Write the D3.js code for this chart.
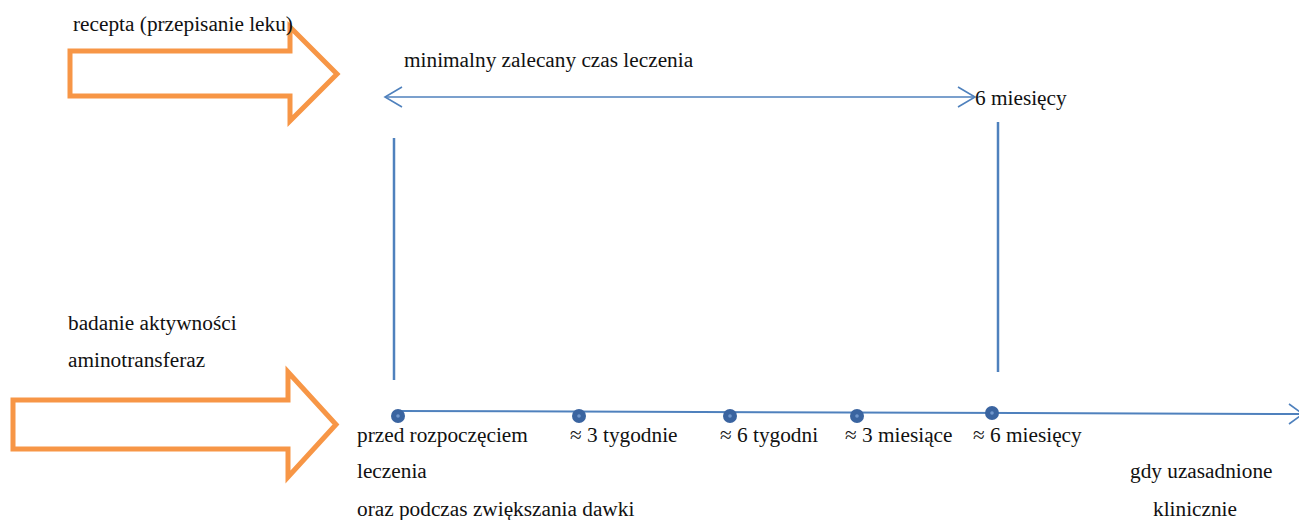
<!DOCTYPE html>
<html>
<head>
<meta charset="utf-8">
<script src="https://cdn.jsdelivr.net/npm/d3@7"></script>
<style>
  html, body { margin: 0; padding: 0; background: #fff; }
</style>
</head>
<body>
<div id="chart"></div>
<script>
// checkpoints on the timeline (weeks from start of treatment)
const checkWeeks = [0, 3, 6, 13, 26];
const checkLabels = ["przed rozpoczęciem", "≈ 3 tygodnie", "≈ 6 tygodni", "≈ 3 miesiące", "≈ 6 miesięcy"];
const firstExtraLines = ["leczenia", "oraz podczas zwiększania dawki"];
const clinicalLines = ["gdy uzasadnione", "klinicznie"];
const topLabel = "recepta (przepisanie leku)";
const bottomLabel = ["badanie aktywności", "aminotransferaz"];
const spanLabel = "minimalny zalecany czas leczenia";
const spanEndLabel = "6 miesięcy";
const minWeeks = 26;

const width = 1299, height = 520;
const orange = "#F79646", blue = "#4F81BD", dotBlue = "#3A64A0";
const serif = "'Liberation Serif', 'Times New Roman', Tinos, Times, 'DejaVu Serif', serif";

const svg = d3.select("#chart").append("svg")
  .attr("width", width)
  .attr("height", height)
  .style("font-family", serif)
  .style("font-size", "21.3px");

// piecewise scale for the (not to scale) timeline
const x = d3.scaleLinear()
  .domain([0, 3, 6, 13, 26, 60])
  .range([398, 579, 730, 857, 992, 1299]);

const lineY = d3.scaleLinear().domain([0, 60]).range([411, 414]);

function addText(tx, ty, str) {
  return svg.append("text")
    .attr("x", tx).attr("y", ty)
    .attr("font-family", serif)
    .attr("fill", "#111")
    .text(str);
}

// block arrows
function blockArrow(x0, yTop, yBot, xHead, hTop, hBot, xTip) {
  const yMid = (hTop + hBot) / 2;
  return d3.line()([
    [x0, yTop], [xHead, yTop], [xHead, hTop], [xTip, yMid],
    [xHead, hBot], [xHead, yBot], [x0, yBot]
  ]) + "Z";
}

svg.append("path")
  .attr("d", blockArrow(70, 51, 96, 290, 27, 121, 337))
  .attr("fill", "none").attr("stroke", orange).attr("stroke-width", 5);

svg.append("path")
  .attr("d", blockArrow(13, 400, 449, 288, 372, 477, 336))
  .attr("fill", "none").attr("stroke", orange).attr("stroke-width", 5);

// labels next to block arrows
addText(73, 31, topLabel);
bottomLabel.forEach((d, i) => addText(68, 330 + i * 37, d));

// vertical markers
svg.append("line")
  .attr("x1", 394).attr("x2", 394).attr("y1", 138).attr("y2", 380)
  .attr("stroke", blue).attr("stroke-width", 2.5);
svg.append("line")
  .attr("x1", x(minWeeks) + 6).attr("x2", x(minWeeks) + 6).attr("y1", 122).attr("y2", 372)
  .attr("stroke", blue).attr("stroke-width", 2.5);

// double arrow for minimum treatment duration
const spanY = 97, sx0 = 385, sx1 = 975;
svg.append("line")
  .attr("x1", sx0).attr("x2", sx1).attr("y1", spanY).attr("y2", spanY)
  .attr("stroke", blue).attr("stroke-width", 1.6);
svg.append("path")
  .attr("d", d3.line()([[sx0 + 17, spanY - 10], [sx0, spanY], [sx0 + 17, spanY + 10]]))
  .attr("fill", "none").attr("stroke", blue).attr("stroke-width", 1.6);
svg.append("path")
  .attr("d", d3.line()([[sx1 - 17, spanY - 10], [sx1, spanY], [sx1 - 17, spanY + 10]]))
  .attr("fill", "none").attr("stroke", blue).attr("stroke-width", 1.6);
addText(404, 67, spanLabel);
addText(975, 105, spanEndLabel);

// timeline
svg.append("line")
  .attr("x1", x(0)).attr("y1", lineY(0))
  .attr("x2", x(60) + 4).attr("y2", lineY(60))
  .attr("stroke", blue).attr("stroke-width", 2);
svg.append("path")
  .attr("d", d3.line()([[x(60) - 10, lineY(60) - 10], [x(60) + 4, lineY(60)], [x(60) - 10, lineY(60) + 10]]))
  .attr("fill", "none").attr("stroke", blue).attr("stroke-width", 1.6);

const pts = svg.selectAll(".pt").data(checkWeeks).enter().append("g")
  .attr("transform", (d, i) => `translate(${x(d)},${i === 4 ? 413 : 416})`);
pts.append("circle").attr("r", 7).attr("fill", dotBlue);
pts.append("circle").attr("r", 1.8).attr("fill", "#7097cc");

const labelDx = [-41, -9, -10, -12, -19];
checkWeeks.forEach((d, i) => addText(x(d) + labelDx[i], 442, checkLabels[i]));

firstExtraLines.forEach((d, i) => addText(357, 478 + i * 38, d));

const clinicalX = [1130, 1153];
clinicalLines.forEach((d, i) => addText(clinicalX[i], 478 + i * 38, d));
</script>
</body>
</html>
